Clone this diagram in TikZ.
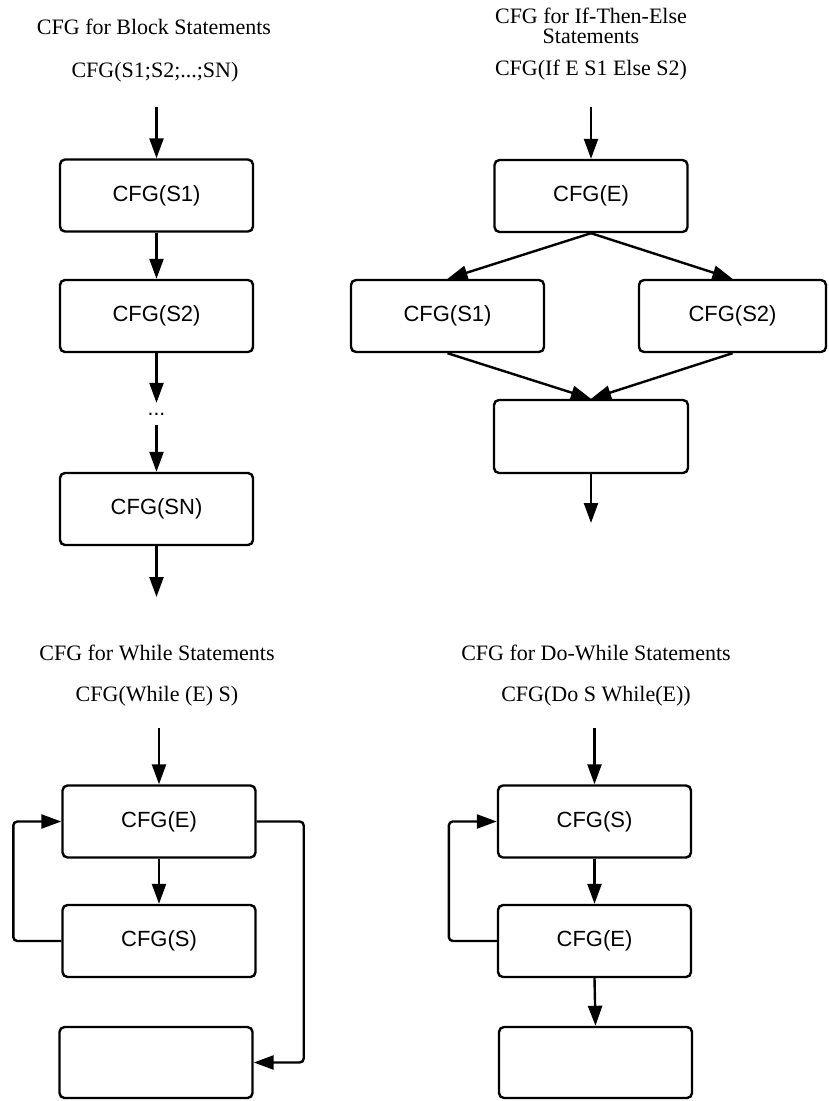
\documentclass[tikz,border=0pt]{standalone}
\usepackage{fontspec}
\setmainfont{Liberation Serif}
\newfontfamily\boxfont{Liberation Sans}
\usetikzlibrary{arrows.meta}
\tikzset{
  blk/.style={draw, line width=2.4pt, rounded corners=5pt, minimum width=193pt, minimum height=72pt, inner sep=0pt, font=\boxfont\fontsize{22}{24}\selectfont},
  ttl/.style={font=\fontsize{22}{20}\selectfont, align=center, inner sep=0pt},
  arr/.style={line width=2.4pt, rounded corners=4pt, -{Triangle[length=20pt,width=14pt]}},
  dots/.style={inner sep=0pt, minimum height=22pt, font=\boxfont\fontsize{21}{24}\selectfont}
}
\begin{document}
\begin{tikzpicture}[x=1pt,y=-1pt]
\useasboundingbox (0,0) rectangle (828,1101);
% ---- Block statements
\node[ttl] (t1) at (154,27) {CFG for Block Statements};
\node[ttl] (t1b) at (155,72) {CFG(S1;S2;...;SN)};
\coordinate (b0) at (156.5,107);
\node[blk] (bs1) at (156.5,195.5) {CFG(S1)};
\node[blk] (bs2) at (156.5,316) {CFG(S2)};
\node[dots] (bd) at (156.5,414) {...};
\node[blk] (bsn) at (156.5,509) {CFG(SN)};
\coordinate (bend) at (156.5,597);
\draw[arr] (b0) -- (bs1.north);
\draw[arr] (bs1.south) -- (bs2.north);
\draw[arr] (bs2.south) -- (bd.north);
\draw[arr] (bd.south) -- (bsn.north);
\draw[arr] (bsn.south) -- (bend);
% ---- If-then-else
\node[ttl] (t2) at (591,26) {CFG for If-Then-Else\\Statements};
\node[ttl] (t2b) at (591,70) {CFG(If E S1 Else S2)};
\coordinate (i0) at (591,107);
\node[blk] (ie) at (591,196) {CFG(E)};
\node[blk] (is1) at (447.5,316) {CFG(S1)};
\node[blk, minimum width=187pt] (is2) at (732.5,316) {CFG(S2)};
\node[blk, minimum width=194pt, minimum height=73pt] (ij) at (591,436.5) {};
\coordinate (iend) at (591,523);
\draw[arr] (i0) -- (ie.north);
\draw[arr] (ie.south) -- (is1.north);
\draw[arr] (ie.south) -- (is2.north);
\draw[arr] (is1.south) -- (ij.north);
\draw[arr] (is2.south) -- (ij.north);
\draw[arr] (ij.south) -- (iend);
% ---- While
\node[ttl] (t3) at (157,653) {CFG for While Statements};
\node[ttl] (t3b) at (157,696) {CFG(While (E) S)};
\coordinate (w0) at (159,728);
\node[blk] (we) at (159,821.5) {CFG(E)};
\node[blk] (ws) at (159,941) {CFG(S)};
\node[blk, minimum height=71pt] (wx) at (156,1062.5) {};
\draw[arr] (w0) -- (we.north);
\draw[arr] (we.south) -- (ws.north);
\draw[arr] (ws.west) -- ++(-48,0) |- (we.west);
\draw[arr] (we.east) -- ++(47,0) |- (wx.east);
% ---- Do-While
\node[ttl] (t4) at (596,653) {CFG for Do-While Statements};
\node[ttl] (t4b) at (596,696) {CFG(Do S While(E))};
\coordinate (d0) at (594.5,728);
\node[blk] (ds) at (594.5,821.5) {CFG(S)};
\node[blk] (de) at (594.5,941) {CFG(E)};
\node[blk, minimum height=71pt] (dx) at (595.5,1062.5) {};
\draw[arr] (d0) -- (ds.north);
\draw[arr] (ds.south) -- (de.north);
\draw[arr] (de.west) -- ++(-48,0) |- (ds.west);
\draw[arr] (de.south) -- (dx.north);
\end{tikzpicture}
\end{document}
